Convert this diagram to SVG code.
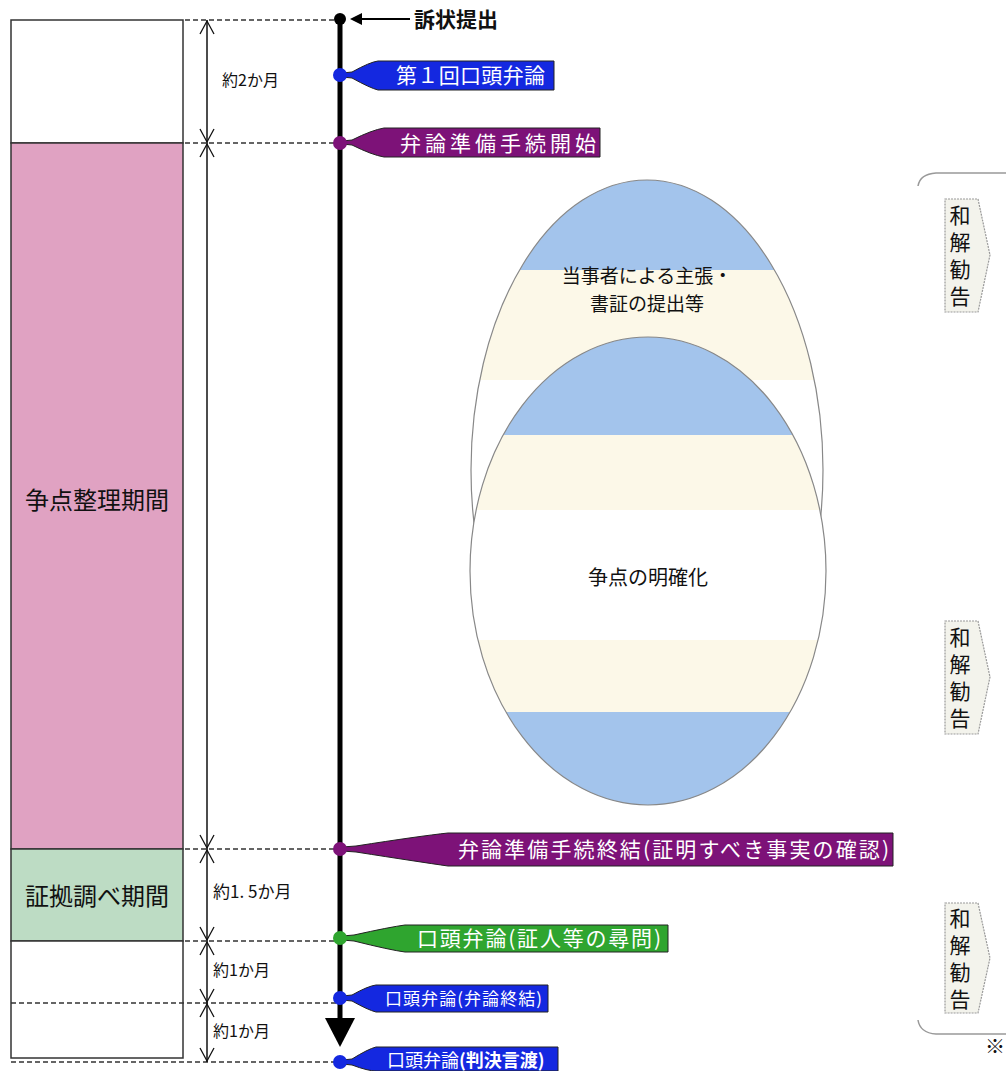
<svg xmlns="http://www.w3.org/2000/svg" width="1006" height="1071" viewBox="0 0 1006 1071">
<style>
text{font-family:"Noto Sans CJK JP","Noto Sans",sans-serif;}
.lbl{fill:#ffffff;font-size:21px;}
.dim{fill:#111;font-size:16px;}
.period{fill:#111;font-size:24px;}
.dash{stroke:#333;stroke-width:1.5;stroke-dasharray:5 3;fill:none;}
.chev{stroke:#111;stroke-width:1.3;fill:none;}
.box{stroke:#333;stroke-width:1.5;}
.wakai{fill:#f3f3ec;stroke:#999;stroke-width:1.2;stroke-dasharray:2 1;}
.wtxt{fill:#111;font-size:21px;writing-mode:vertical-rl;letter-spacing:6px;}
.pen{stroke:#222;stroke-width:1;}
.ell{stroke:#888;stroke-width:1.2;}
.etxt{fill:#111;font-size:19px;text-anchor:middle;}
</style>
<defs>
<linearGradient id="gUp" gradientUnits="userSpaceOnUse" x1="0" y1="180" x2="0" y2="760">
<stop offset="0" stop-color="#a3c4ec"/><stop offset="0.155" stop-color="#a3c4ec"/>
<stop offset="0.155" stop-color="#fcf8e8"/><stop offset="0.345" stop-color="#fcf8e8"/>
<stop offset="0.345" stop-color="#ffffff"/><stop offset="1" stop-color="#ffffff"/>
</linearGradient>
<linearGradient id="gLow" gradientUnits="userSpaceOnUse" x1="0" y1="337" x2="0" y2="805">
<stop offset="0" stop-color="#a3c4ec"/><stop offset="0.209" stop-color="#a3c4ec"/>
<stop offset="0.209" stop-color="#fcf8e8"/><stop offset="0.370" stop-color="#fcf8e8"/>
<stop offset="0.370" stop-color="#ffffff"/><stop offset="0.647" stop-color="#ffffff"/>
<stop offset="0.647" stop-color="#fcf8e8"/><stop offset="0.801" stop-color="#fcf8e8"/>
<stop offset="0.801" stop-color="#a3c4ec"/><stop offset="1" stop-color="#a3c4ec"/>
</linearGradient>
</defs>
<rect width="1006" height="1071" fill="#ffffff"/>

<!-- left period column -->
<g id="period-before">
<rect class="box" x="11" y="20" width="172" height="123" fill="#ffffff"/>
</g>
<g id="period-issues">
<rect class="box" x="11" y="143" width="172" height="706" fill="#e0a2c2"/>
<text class="period" x="97" y="509" text-anchor="middle">争点整理期間</text>
</g>
<g id="period-evidence">
<rect class="box" x="11" y="849" width="172" height="92" fill="#bddcc4"/>
<text class="period" x="97" y="905" text-anchor="middle">証拠調べ期間</text>
</g>
<g id="period-after">
<rect class="box" x="11" y="941" width="172" height="117" fill="#ffffff"/>
</g>

<!-- connectors -->
<g id="connectors">
<line class="dash" x1="185" y1="20" x2="338" y2="20"/>
<line class="dash" x1="185" y1="143" x2="338" y2="143"/>
<line class="dash" x1="185" y1="849" x2="338" y2="849"/>
<line class="dash" x1="185" y1="941" x2="338" y2="941"/>
<line class="dash" x1="11" y1="1003" x2="338" y2="1003"/>
<line class="dash" x1="11" y1="1062" x2="338" y2="1062"/>
<line x1="207" y1="20" x2="207" y2="1062" stroke="#111" stroke-width="1.5"/>
<path class="chev" d="M200,34 L207,21 L214,34"/>
<path class="chev" d="M200,129 L207,142 L214,129 M200,157 L207,144 L214,157"/>
<path class="chev" d="M200,835 L207,848 L214,835 M200,863 L207,850 L214,863"/>
<path class="chev" d="M200,927 L207,940 L214,927 M200,955 L207,942 L214,955"/>
<path class="chev" d="M200,989 L207,1002 L214,989 M200,1017 L207,1004 L214,1017"/>
<path class="chev" d="M200,1048 L207,1061 L214,1048"/>
<line x1="340" y1="19" x2="340" y2="1022" stroke="#000" stroke-width="5"/>
<polygon points="325,1018 355,1018 340,1047" fill="#000"/>
<line x1="360" y1="19" x2="410" y2="19" stroke="#000" stroke-width="2"/>
<polygon points="350,19 362,13 362,25" fill="#000"/>
</g>

<g id="dim-labels">
<text class="dim" x="222" y="86">約2か月</text>
<text class="dim" x="213" y="898" style="font-size:17px">約1. 5か月</text>
<text class="dim" x="213" y="976">約1か月</text>
<text class="dim" x="213" y="1037">約1か月</text>
</g>

<!-- timeline events -->
<g id="ev-filing">
<circle cx="340" cy="19" r="6" fill="#000"/>
<text x="414" y="27" font-size="21" font-weight="bold" fill="#111">訴状提出</text>
</g>
<g id="ev-first-hearing">
<path class="pen" fill="#1428e0" d="M342,73 L352,72 Q370,62 378,61 H554 V90 H378 Q370,88 352,78 L342,77 Z"/>
<circle cx="340" cy="75" r="7" fill="#1428e0"/>
<text class="lbl" x="396" y="83" textLength="149" lengthAdjust="spacing">第１回口頭弁論</text>
</g>
<g id="ev-prep-start">
<path class="pen" fill="#7d1278" d="M342,141 L352,140 Q372,130 384,128 H600 V157 H384 Q372,155 352,145 L342,144 Z"/>
<circle cx="340" cy="143" r="7" fill="#7d1278"/>
<text class="lbl" x="400" y="151" textLength="196" lengthAdjust="spacing">弁論準備手続開始</text>
</g>
<g id="ev-prep-end">
<path class="pen" fill="#7d1278" d="M342,847 L356,846 Q420,836 448,833 H893 V866 H448 Q420,862 356,852 L342,851 Z"/>
<circle cx="340" cy="849" r="7" fill="#7d1278"/>
<text class="lbl" x="458" y="857" textLength="431" lengthAdjust="spacing">弁論準備手続終結(証明すべき事実の確認)</text>
</g>
<g id="ev-witness">
<path class="pen" fill="#2fa52f" d="M342,936 L354,935 Q390,927 405,925 H668 V952 H405 Q390,950 354,941 L342,940 Z"/>
<circle cx="340" cy="938" r="7" fill="#2fa52f"/>
<text class="lbl" x="417" y="946" textLength="244" lengthAdjust="spacing">口頭弁論(証人等の尋問)</text>
</g>
<g id="ev-close">
<path class="pen" fill="#1428e0" d="M342,996 L352,995 Q368,986 376,985 H548 V1012 H376 Q368,1010 352,1001 L342,1000 Z"/>
<circle cx="340" cy="998" r="7" fill="#1428e0"/>
<text class="lbl" x="385" y="1005" style="font-size:17px" textLength="157" lengthAdjust="spacing">口頭弁論(弁論終結)</text>
</g>
<g id="ev-judgment">
<path class="pen" fill="#1428e0" d="M342,1060 L352,1059 Q368,1049 376,1047 H558 V1071 H376 Q368,1071 352,1065 L342,1064 Z"/>
<circle cx="340" cy="1062" r="7" fill="#1428e0"/>
<text class="lbl" x="387" y="1067" style="font-size:18px">口頭弁論<tspan font-weight="bold">(判決言渡)</tspan></text>
</g>

<!-- ellipses -->
<g id="claims">
<ellipse class="ell" cx="647" cy="470" rx="176" ry="290" fill="url(#gUp)"/>
<text class="etxt" x="647" y="283">当事者による主張・<tspan x="647" dy="28">書証の提出等</tspan></text>
</g>
<g id="clarify">
<ellipse class="ell" cx="648" cy="571" rx="178" ry="234" fill="url(#gLow)"/>
<text class="etxt" x="648" y="585" style="font-size:20px">争点の明確化</text>
</g>

<!-- settlement -->
<g id="settle-bracket">
<path d="M918,186 Q920,174 936,173 H1006" fill="none" stroke="#999" stroke-width="1.5"/>
<path d="M918,1020 Q920,1033 936,1034 H1006" fill="none" stroke="#999" stroke-width="1.5"/>
<text x="985" y="1054" font-size="20" fill="#111">※</text>
</g>
<g id="settle-1">
<polygon class="wakai" points="945,199 978,199 990,255 978,312 945,312"/>
<text class="wtxt" x="960" y="205">和解勧告</text>
</g>
<g id="settle-2">
<polygon class="wakai" points="945,621 978,621 990,677 978,734 945,734"/>
<text class="wtxt" x="960" y="627">和解勧告</text>
</g>
<g id="settle-3">
<polygon class="wakai" points="945,903 978,903 990,958 978,1013 945,1013"/>
<text class="wtxt" x="960" y="908">和解勧告</text>
</g>
</svg>
